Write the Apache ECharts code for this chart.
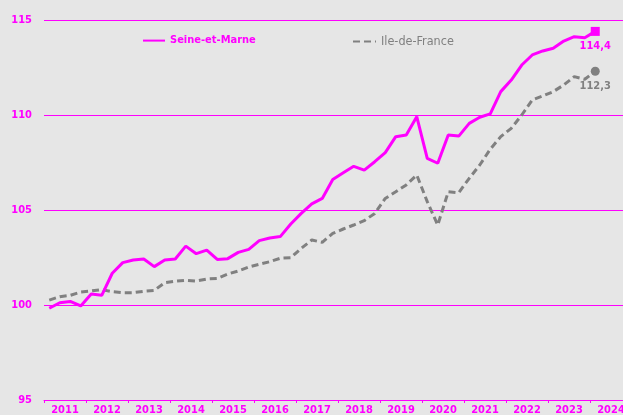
<!DOCTYPE html>
<html>
<head>
<meta charset="utf-8">
<script src="https://cdn.jsdelivr.net/npm/echarts@6/dist/echarts.min.js"></script>
<style>
html,body{margin:0;padding:0;background:#e6e6e6;}
#c{width:623px;height:415px;}
</style>
</head>
<body>
<div id="c"></div>
<script>
const years = ['2011','2012','2013','2014','2015','2016','2017','2018','2019','2020','2021','2022','2023','2024'];
const quarterNames = ['T1','T2','T3','T4'];
const quarters = [];
years.forEach(function (y) { quarterNames.forEach(function (q) { quarters.push(y + q); }); });

const seineEtMarne = [
  99.83, 100.12, 100.19, 99.95,
  100.58, 100.51, 101.67, 102.23,
  102.37, 102.42, 102.02, 102.37,
  102.42, 103.10, 102.70, 102.89,
  102.40, 102.44, 102.77, 102.93,
  103.39, 103.53, 103.60, 104.26,
  104.82, 105.32, 105.61, 106.61,
  106.96, 107.30, 107.10, 107.54,
  108.02, 108.86, 108.95, 109.91,
  107.72, 107.46, 108.95, 108.89,
  109.56, 109.88, 110.06, 111.23,
  111.84, 112.63, 113.16, 113.37,
  113.51, 113.89, 114.12, 114.07,
  114.4
];
const ileDeFrance = [
  100.26, 100.44, 100.51, 100.68,
  100.74, 100.81, 100.70, 100.65,
  100.65, 100.72, 100.77, 101.17,
  101.25, 101.30, 101.26, 101.37,
  101.40, 101.63, 101.79, 102.00,
  102.14, 102.28, 102.46, 102.49,
  102.98, 103.42, 103.30, 103.77,
  104.00, 104.21, 104.44, 104.82,
  105.61, 105.96, 106.32, 106.84,
  105.44, 104.21, 105.96, 105.91,
  106.67, 107.37, 108.20, 108.86,
  109.30, 110.00, 110.79, 111.00,
  111.23, 111.58, 112.02, 111.88,
  112.3
];
const yMin = 95, yMax = 115, yStep = 5;

const MAGENTA = '#ff00ff';
const GRAY = '#808080';
const FONT = '"DejaVu Sans Condensed", "DejaVu Sans", sans-serif';

function withEndMarker(arr, symbol, size, color) {
  return arr.map(function (v, i) {
    if (i !== arr.length - 1) return v;
    return {
      value: v,
      symbol: symbol,
      symbolSize: size,
      itemStyle: { color: color, opacity: 1 },
      label: {
        show: true, position: 'bottom', distance: 5,
        color: color, fontWeight: 'bold', fontSize: 11, fontFamily: FONT,
        formatter: function (p) { return p.value.toFixed(1).replace('.', ','); }
      }
    };
  });
}

const chart = echarts.init(document.getElementById('c'), null, { renderer: 'canvas' });
chart.setOption({
  animation: false,
  backgroundColor: '#e6e6e6',
  grid: { left: 44, right: -9, top: 20, bottom: 15, containLabel: false, outerBoundsMode: 'none' },
  legend: [
    {
      data: ['Seine-et-Marne'], left: 142, top: 35, padding: 0, itemWidth: 22, itemHeight: 14,
      itemStyle: { opacity: 0 },
      textStyle: { color: MAGENTA, fontWeight: 'bold', fontSize: 11, fontFamily: FONT }
    },
    {
      data: ['Ile-de-France'], left: 352, top: 35, padding: 0, itemWidth: 23, itemHeight: 14,
      itemStyle: { opacity: 0 },
      textStyle: { color: GRAY, fontWeight: 'normal', fontSize: 12.5, fontFamily: FONT }
    }
  ],
  xAxis: [
    {
      type: 'category', data: quarters, position: 'bottom', boundaryGap: true,
      axisLine: { show: true, lineStyle: { color: MAGENTA, width: 1 } },
      axisTick: { show: true, interval: 3, length: 3, lineStyle: { color: MAGENTA, width: 1 } },
      axisLabel: { show: false },
      splitLine: { show: false }
    },
    {
      type: 'category', data: years, position: 'bottom', boundaryGap: true,
      axisLine: { show: false }, axisTick: { show: false }, splitLine: { show: false },
      axisLabel: { show: true, interval: 0, color: MAGENTA, fontWeight: 'bold', fontSize: 11, fontFamily: FONT, margin: 5 }
    }
  ],
  yAxis: {
    type: 'value', min: yMin, max: yMax, interval: yStep,
    axisLine: { show: false }, axisTick: { show: false },
    splitLine: { show: true, lineStyle: { color: MAGENTA, width: 1 } },
    axisLabel: { color: MAGENTA, fontWeight: 'bold', fontSize: 11, fontFamily: FONT, margin: 12 }
  },
  series: [
    {
      name: 'Ile-de-France', type: 'line', xAxisIndex: 0,
      data: withEndMarker(ileDeFrance, 'circle', 9, GRAY),
      symbol: 'none', showSymbol: true, showAllSymbol: true,
      lineStyle: { color: GRAY, width: 3, type: [7, 4] },
      itemStyle: { color: GRAY },
      emphasis: { disabled: true }
    },
    {
      name: 'Seine-et-Marne', type: 'line', xAxisIndex: 0,
      data: withEndMarker(seineEtMarne, 'rect', 9, MAGENTA),
      symbol: 'none', showSymbol: true, showAllSymbol: true,
      lineStyle: { color: MAGENTA, width: 3 },
      itemStyle: { color: MAGENTA },
      emphasis: { disabled: true }
    }
  ]
});
</script>
</body>
</html>
